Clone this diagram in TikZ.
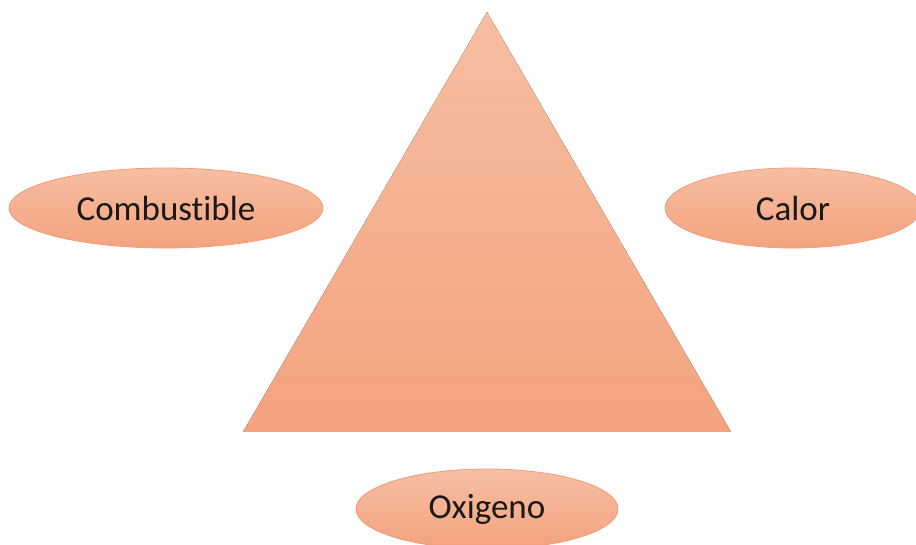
\documentclass[tikz,border=0pt]{standalone}
\usepackage{fontspec}
\setmainfont[Ligatures=NoCommon]{Carlito}
\usetikzlibrary{shapes.geometric}
\definecolor{salmontop}{HTML}{F6BEA3}
\definecolor{salmonbot}{HTML}{F4A37E}
\definecolor{salmonedge}{HTML}{F09D77}

\begin{document}
\begin{tikzpicture}[x=1pt,y=1pt,
  elem/.style={ellipse,draw=salmonedge,line width=0.8pt,top color=salmontop,bottom color=salmonbot,
    minimum height=80pt,inner sep=0pt,font=\fontsize{35}{40}\selectfont,text=black!90},
  tri/.style={top color=salmontop,bottom color=salmonbot}
]
\useasboundingbox (0,0) rectangle (916,544);
\clip (0,0) rectangle (916,544);
% fire triangle
\coordinate (apex) at (487,532);
\coordinate (baseL) at (243,112);
\coordinate (baseR) at (731,112);
\fill[tri] (apex) -- (baseR) -- (baseL) -- cycle;
% the three elements
\node[elem,minimum width=314pt] (comb) at (166,336) {Combustible};
\node[elem,minimum width=256pt] (calor) at (793,336) {Calor};
\node[elem,minimum width=262pt] (oxi) at (487,35) {Oxigeno};
\end{tikzpicture}
\end{document}
